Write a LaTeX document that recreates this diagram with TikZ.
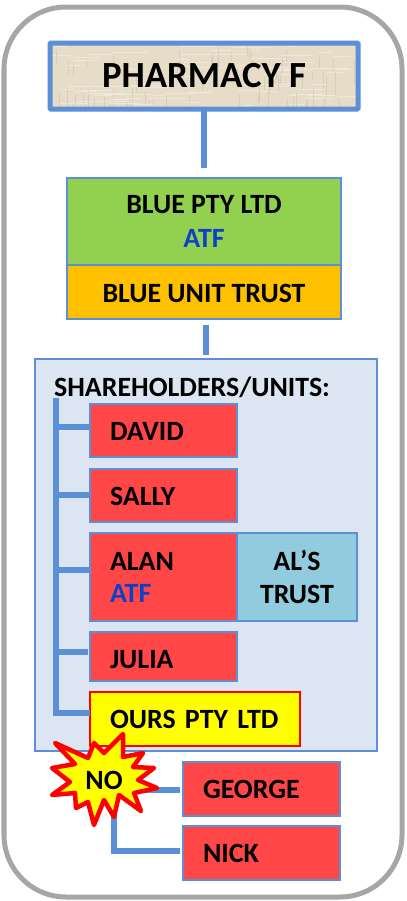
\documentclass[tikz,border=0pt]{standalone}
\usepackage{fontspec}
\setmainfont{Carlito}
\definecolor{edgeblue}{HTML}{5B8FD6}
\definecolor{framegray}{HTML}{A6A6A6}
\definecolor{panelblue}{HTML}{DCE6F2}
\definecolor{boxred}{HTML}{FF4747}
\definecolor{boxgreen}{HTML}{92D14F}
\definecolor{boxorange}{HTML}{FFC000}
\definecolor{boxcyan}{HTML}{92CBDE}
\definecolor{boxyellow}{HTML}{FFFF00}
\definecolor{hotred}{HTML}{FF0000}
\definecolor{atfblue}{HTML}{0F3FC8}
\definecolor{linen}{HTML}{E6DCC8}
\definecolor{linenlight}{HTML}{EFE8DA}
\definecolor{linendark}{HTML}{D8CDB8}
\newcommand{\lowered}[2]{\raisebox{-#1bp}[\height][\depth]{#2}}
\tikzset{
  x=1bp,y=-1bp,
  lab/.style={font=\fontsize{28}{33.5}\selectfont\bfseries,text=black},
  basebox/.style={lab,draw=edgeblue,line width=1.8bp,anchor=north west,inner sep=0pt,outer sep=0pt,align=center},
  person/.style={basebox,fill=boxred,align=left,text width=#1-40bp,inner xsep=20bp},
  wire/.style={draw=edgeblue,line width=5.5bp},
}
\begin{document}
\begin{tikzpicture}
\useasboundingbox (0,0) rectangle (406,901);
% outer frame
\draw[framegray,line width=5bp,rounded corners=62bp,fill=white] (4,7) rectangle (402,897);

% pharmacy
\fill[linen] (50,43) rectangle (358,109);
\begin{scope}
\clip (50,43) rectangle (358,109);
\pgfmathsetseed{7}
\foreach \i in {1,...,90}{
  \pgfmathsetmacro{\xa}{50+rnd*308}
  \pgfmathsetmacro{\ya}{43+rnd*66}
  \pgfmathsetmacro{\la}{8+rnd*30}
  \pgfmathsetmacro{\lb}{6+rnd*18}
  \draw[linenlight,line width=.7bp] (\xa,\ya) -- ++(\la,0);
  \draw[linendark,line width=.6bp] (\xa,\ya+3) -- ++(0,\lb);
}
\end{scope}
\node[basebox,draw=edgeblue,line width=5bp,minimum width=308bp,minimum height=66bp,rounded corners=1bp,font=\fontsize{37}{40}\selectfont\bfseries] (pharm) at (50,43) {PHARMACY F};

% trust stack
\node[basebox,fill=boxgreen,minimum width=274bp,minimum height=87bp] (blue) at (67,178) {BLUE PTY LTD\\\textcolor{atfblue}{ATF}};
\node[basebox,fill=boxorange,minimum width=274bp,minimum height=54bp] (unit) at (67,265) {\lowered{1}{BLUE UNIT TRUST}};
\coordinate (pharmEnd) at (204,168);
\draw[wire] (pharmEnd |- pharm.south) -- (pharmEnd);
\coordinate (unitEndA) at (206,325);
\coordinate (unitEndB) at (206,355);
\draw[wire] (unitEndA) -- (unitEndB);

% panel
\node[basebox,fill=panelblue,minimum width=342bp,minimum height=392bp] (panel) at (35,359) {};
\node[lab,anchor=west,inner sep=0pt] (head) at (54,387) {SHAREHOLDERS/UNITS:};

% people
\node[person=147bp,minimum height=53bp] (david) at (90,404) {\lowered{1}{DAVID}};
\node[person=147bp,minimum height=53bp] (sally) at (90,469) {\lowered{1}{SALLY}};
\node[person=147bp,minimum height=88bp] (alan) at (90,533) {\lowered{1}{ALAN}\\\textcolor{atfblue}{ATF}};
\node[basebox,fill=boxcyan,minimum width=120bp,minimum height=88bp] (als) at (237,533) {AL’S\\TRUST};
\node[person=147bp,minimum height=49bp] (julia) at (90,632) {\lowered{3}{JULIA}};
\node[person=210bp,minimum height=54bp,fill=boxyellow,draw=hotred] (ours) at (90,692) {OURS PTY LTD};

% tree
\coordinate (treeTop) at (56,398);
\coordinate (treeBot) at (56,716);
\draw[wire] (treeTop) -- (treeBot);
\draw[wire] (56,427) -- (89,427);
\draw[wire] (56,495) -- (89,495);
\draw[wire] (56,570) -- (89,570);
\draw[wire] (56,652) -- (88,652);
\draw[wire] (53.5,713) -- (90,713);

% outside
\node[person=157bp,minimum height=54bp] (george) at (183,762) {GEORGE};
\node[person=157bp,minimum height=54bp] (nick) at (183,826) {NICK};
\coordinate (joint) at (114,790);
\draw[wire] (joint) -- (180,790);
\draw[wire,line join=miter] (joint) -- (114,851) -- (180,851);

% burst
\draw[hotred,fill=boxyellow,line width=4.5bp,line join=round]
 (55,743)--(88,758)--(94,743)--(104,753)--(123,734)--(123,757)--(143,753)--(133,767)--(154,768)--(138,780)--(157,788)--(134,793)--(141,811)--(119,795)--(114,817)--(104,800)--(94,825)--(88,802)--(76,808)--(75,793)--(52,795)--(70,782)--(52,768)--(75,764)--cycle;
\node[lab,inner sep=0pt] (no) at (104,780) {NO};
\end{tikzpicture}
\end{document}
